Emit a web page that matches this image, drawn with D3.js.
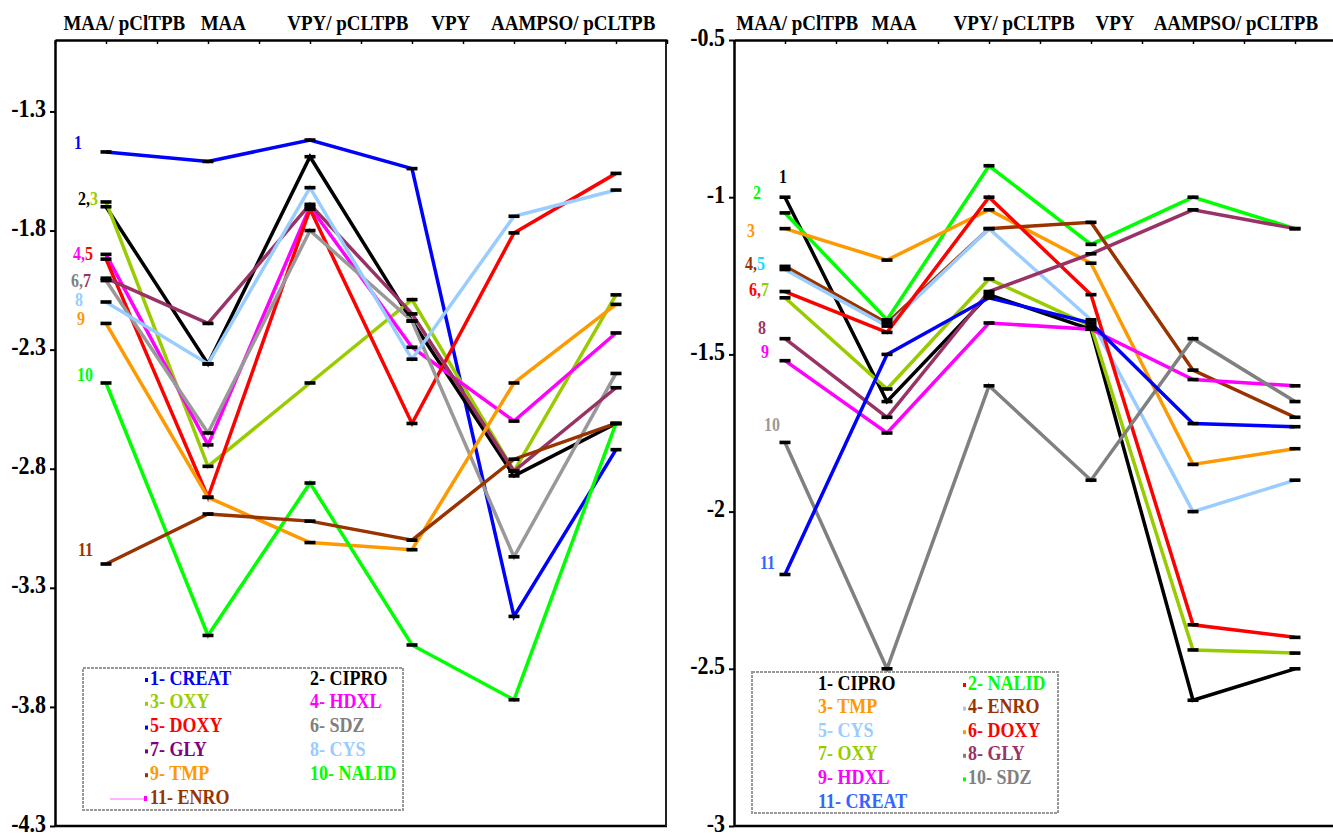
<!DOCTYPE html>
<html>
<head>
<meta charset="utf-8">
<script src="https://cdn.jsdelivr.net/npm/d3@7"></script>
<style>
  body { margin: 0; background: #fff; }
  svg text { font-family: "Liberation Serif", "Times New Roman", serif; font-weight: bold; }
</style>
</head>
<body>
<svg id="chart" width="1333" height="833"></svg>
<script>
// Données communes
var categories = ["MAA/ pClTPB", "MAA", "VPY/ pCLTPB", "VPY", "AAMPSO/ pCLTPB"];
var steps = [1, 3, 5, 7, 9, 11];

// Panneau gauche
var leftTicks = [-4.3, -3.8, -3.3, -2.8, -2.3, -1.8, -1.3];
var leftNames = ["1- CREAT", "2- CIPRO", "3- OXY", "4- HDXL", "5- DOXY", "6- SDZ",
                 "7- GLY", "8- CYS", "9- TMP", "10- NALID", "11- ENRO"];
var leftCreat = [-1.47, -1.51, -1.42, -1.54, -3.42, -2.72];
var leftCipro = [-1.70, -2.36, -1.49, -2.18, -2.83, -2.61];
var leftOxy   = [-1.68, -2.79, -2.44, -2.09, -2.81, -2.07];
var leftHdxl  = [-1.90, -2.70, -1.70, -2.29, -2.60, -2.23];
var leftDoxy  = [-1.92, -2.92, -1.71, -2.61, -1.81, -1.56];
var leftSdz   = [-2.01, -2.65, -1.80, -2.18, -3.17, -2.40];
var leftGly   = [-2.00, -2.19, -1.69, -2.15, -2.81, -2.46];
var leftCys   = [-2.10, -2.36, -1.62, -2.34, -1.74, -1.63];
var leftTmp   = [-2.19, -2.92, -3.11, -3.14, -2.44, -2.11];
var leftNalid = [-2.44, -3.50, -2.86, -3.54, -3.77, -2.61];
var leftEnro  = [-3.20, -2.99, -3.02, -3.10, -2.76, -2.61];
var leftTags = [["1"], ["2", "3"], ["4", "5"], ["6", "7"], ["8"], ["9"], ["10"], ["11"]];

// Panneau droit
var rightTicks = [-3, -2.5, -2, -1.5, -1, -0.5];
var rightNames = ["1- CIPRO", "2- NALID", "3- TMP", "4- ENRO", "5- CYS", "6- DOXY",
                  "7- OXY", "8- GLY", "9- HDXL", "10- SDZ", "11- CREAT"];
var rightCipro = [-1.00, -1.65, -1.31, -1.42, -2.60, -2.50];
var rightNalid = [-1.05, -1.39, -0.90, -1.15, -1.00, -1.10];
var rightTmp   = [-1.10, -1.20, -1.04, -1.21, -1.85, -1.80];
var rightEnro  = [-1.22, -1.40, -1.10, -1.08, -1.55, -1.70];
var rightCys   = [-1.23, -1.41, -1.10, -1.39, -2.00, -1.90];
var rightDoxy  = [-1.30, -1.43, -1.00, -1.31, -2.36, -2.40];
var rightOxy   = [-1.32, -1.61, -1.26, -1.41, -2.44, -2.45];
var rightGly   = [-1.45, -1.70, -1.30, -1.18, -1.04, -1.10];
var rightHdxl  = [-1.52, -1.75, -1.40, -1.42, -1.58, -1.60];
var rightSdz   = [-1.78, -2.50, -1.60, -1.90, -1.45, -1.65];
var rightCreat = [-2.20, -1.50, -1.32, -1.40, -1.72, -1.73];
var rightTags = [["1"], ["2"], ["3"], ["4", "5"], ["6", "7"], ["8"], ["9"], ["10"], ["11"]];

var svg = d3.select("#chart");
var fmt = function(d) { return String(d); };

// texte un peu étiré en hauteur, comme dans l'original
function tallText(sel, x, y) {
  return sel.attr("transform", "translate(" + x + "," + y + ") scale(1,1.12)");
}

function drawPanel(p) {
  var x = d3.scaleLinear().domain([0, 12]).range([p.left, p.left + 612]);
  var y = d3.scaleLinear().domain(p.domain).range([826, 40]);
  var g = svg.append("g");

  // cadre
  g.append("line").attr("x1", p.left).attr("x2", p.left + 612)
    .attr("y1", 826).attr("y2", 826).attr("stroke", "#000").attr("stroke-width", 2.5);
  if (p.border) {
    g.append("line").attr("x1", x(12) - 1).attr("x2", x(12) - 1)
      .attr("y1", 40).attr("y2", 826).attr("stroke", "#222").attr("stroke-width", 2);
  }

  // axe du haut
  var top = g.append("g").attr("transform", "translate(0,40)")
    .call(d3.axisTop(x).tickValues(d3.range(0, 13)).tickSize(-4).tickSizeOuter(0).tickFormat(""));
  top.select(".domain").attr("stroke-width", 2.5);
  top.selectAll(".tick line").attr("stroke-width", 1.5);

  categories.forEach(function(c, i) {
    tallText(g.append("text"), x(p.catPos[i]), 30)
      .attr("text-anchor", "middle")
      .style("font-size", "19px")
      .text(c);
  });

  // axe de gauche (étiquettes dessinées à part, en gras)
  var ax = g.append("g").attr("transform", "translate(" + p.left + ",0)")
    .call(d3.axisLeft(y).tickValues(p.ticks).tickSize(5).tickSizeOuter(0).tickFormat(""));
  ax.select(".domain").attr("stroke-width", 2.5);
  ax.selectAll(".tick line").attr("stroke-width", 2);

  p.ticks.forEach(function(t) {
    tallText(g.append("text"), p.left - 9, y(t))
      .attr("text-anchor", "end")
      .attr("dominant-baseline", "middle")
      .style("font-size", "22px")
      .text(fmt(t));
  });

  // lignes
  var line = d3.line()
    .x(function(d, i) { return x(steps[i]); })
    .y(function(d) { return y(d); });

  p.series.forEach(function(s, i) {
    g.append("path").datum(s)
      .attr("d", line)
      .attr("fill", "none")
      .attr("stroke", p.lineColors[i])
      .attr("stroke-width", 3.5);
  });

  // marqueurs
  p.series.forEach(function(s) {
    g.selectAll(null).data(s).enter().append("rect")
      .attr("x", function(d, i) { return x(steps[i]) - 5.5; })
      .attr("y", function(d) { return y(d) - 1.8; })
      .attr("width", 11).attr("height", 3.6)
      .attr("fill", "#000");
  });

  // étiquettes de départ
  p.tags.forEach(function(t, k) {
    var first = +t[0] - 1;
    var txt = tallText(g.append("text"), x(1) + p.tagDx[k], y(p.series[first][0]) + p.tagDy[k])
      .attr("text-anchor", "end")
      .attr("dominant-baseline", "middle")
      .style("font-size", "16px");
    t.forEach(function(n, j) {
      txt.append("tspan")
        .attr("fill", p.tagColors[+n - 1])
        .text(n + (j < t.length - 1 ? "," : ""));
    });
  });

  // légende
  var lg = p.legend;
  g.append("rect").attr("x", lg.x).attr("y", lg.y).attr("width", lg.w).attr("height", lg.h)
    .attr("fill", "#fff").attr("stroke", "#999").attr("stroke-width", 2)
    .attr("stroke-dasharray", "3,1");
  p.names.forEach(function(n, i) {
    var cx = lg.cols[i % 2], cy = lg.row0 + Math.floor(i / 2) * lg.dy;
    if (lg.marks[i]) {
      g.append("rect").attr("x", cx - 5).attr("y", cy - 2).attr("width", 3).attr("height", 4)
        .attr("fill", lg.marks[i]);
    }
    tallText(g.append("text"), cx, cy)
      .attr("dominant-baseline", "middle")
      .attr("fill", p.textColors[i])
      .style("font-size", "18px")
      .text(n);
  });
  if (lg.extra) lg.extra(g);
}

drawPanel({
  left: 55,
  domain: [-4.3, -1.0],
  ticks: leftTicks,
  border: true,
  catPos: [1.36, 3.3, 5.74, 7.76, 10.16],
  series: [leftCreat, leftCipro, leftOxy, leftHdxl, leftDoxy, leftSdz, leftGly, leftCys, leftTmp, leftNalid, leftEnro],
  names: leftNames,
  lineColors: ["#0000ff", "#000000", "#99cc00", "#ff00ff", "#ff0000", "#999999", "#993366", "#99ccff", "#ff9900", "#00ff00", "#993300"],
  textColors: ["#0000ff", "#000000", "#99cc00", "#ff00ff", "#ff0000", "#808080", "#800080", "#99ccff", "#ff9900", "#00ff00", "#993300"],
  tagColors: ["#0000ff", "#000000", "#99cc00", "#ff00ff", "#ff0000", "#808080", "#993366", "#99ccff", "#ff9900", "#00ff00", "#993300"],
  tags: leftTags,
  tagDx: [-24, -8, -13, -15, -23, -21, -13, -13],
  tagDy: [-7, -6, 1, 2, 0, -3, -6, -12],
  legend: {
    x: 83, y: 668, w: 320, h: 142, cols: [150, 310], row0: 680, dy: 23.8,
    marks: ["#0000ff", null, "#99cc00", null, "#0000ff", null, "#800080", null, "#993300", null, null],
    extra: function(g) {
      g.append("line").attr("x1", 110).attr("x2", 146).attr("y1", 799).attr("y2", 799)
        .attr("stroke", "#ff66ff").attr("stroke-width", 1);
      g.append("rect").attr("x", 144).attr("y", 796).attr("width", 3).attr("height", 5).attr("fill", "#ff00ff");
    }
  }
});

drawPanel({
  left: 734,
  domain: [-3, -0.5],
  ticks: rightTicks,
  border: false,
  catPos: [1.24, 3.14, 5.49, 7.47, 9.84],
  series: [rightCipro, rightNalid, rightTmp, rightEnro, rightCys, rightDoxy, rightOxy, rightGly, rightHdxl, rightSdz, rightCreat],
  names: rightNames,
  lineColors: ["#000000", "#00ff00", "#ff9900", "#993300", "#99ccff", "#ff0000", "#99cc00", "#993366", "#ff00ff", "#808080", "#0000ff"],
  textColors: ["#000000", "#00ff00", "#ff9900", "#993300", "#99ccff", "#ff0000", "#99cc00", "#993366", "#ff00ff", "#808080", "#3366ff"],
  tagColors: ["#000000", "#00ff00", "#ff9900", "#993300", "#11ddff", "#ff0000", "#99cc00", "#993366", "#ff00ff", "#999999", "#3366ff"],
  tags: rightTags,
  tagDx: [2, -24, -30, -20, -16, -19, -16, -5, -10],
  tagDy: [-18, -18, 4, -1, 0, -9, -7, -16, -10],
  legend: {
    x: 752, y: 672, w: 306, h: 141, cols: [818, 968], row0: 685, dy: 23.6,
    marks: [null, "#ff0000", null, "#99ccff", null, "#ff9900", null, "#808080", null, "#00ff00", null]
  }
});
</script>
</body>
</html>
